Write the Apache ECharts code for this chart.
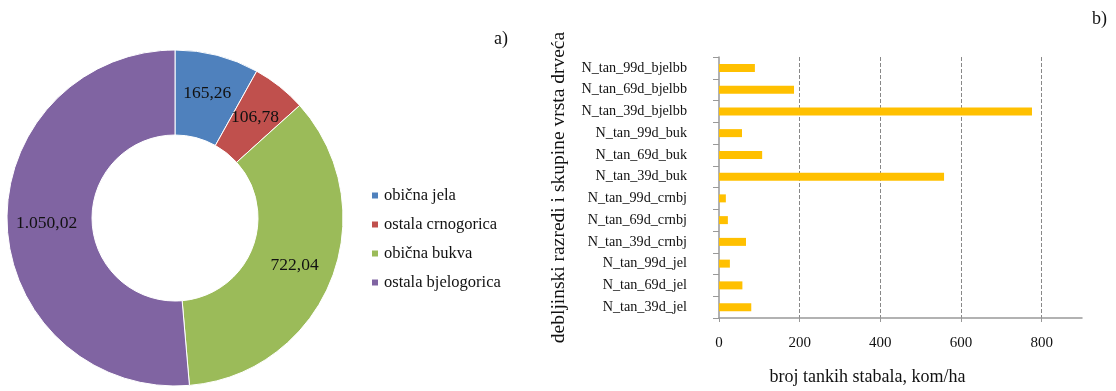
<!DOCTYPE html>
<html>
<head>
<meta charset="utf-8">
<script src="https://cdn.jsdelivr.net/npm/echarts@6/dist/echarts.min.js"></script>
<style>
  html, body { margin: 0; padding: 0; background: #fff; }
  #chart { width: 1116px; height: 391px; }
</style>
</head>
<body>
<div id="chart"></div>
<script>
// donut: species groups
const species = ['obična jela', 'ostala crnogorica', 'obična bukva', 'ostala bjelogorica']
const speciesValues = [165.26, 106.78, 722.04, 1050.02]
const speciesColors = ['#4f81bd', '#c0504d', '#9bbb59', '#8064a2']

// bars: bottom to top
const classes = [
  'N_tan_39d_jel', 'N_tan_69d_jel', 'N_tan_99d_jel',
  'N_tan_39d_crnbj', 'N_tan_69d_crnbj', 'N_tan_99d_crnbj',
  'N_tan_39d_buk', 'N_tan_69d_buk', 'N_tan_99d_buk',
  'N_tan_39d_bjelbb', 'N_tan_69d_bjelbb', 'N_tan_99d_bjelbb'
]
const classValues = [80, 58, 27, 67, 22, 17, 558, 107, 57, 776, 186, 89]

const font = 'Liberation Serif'

// 1050.02 -> "1.050,02"
function hrNum(v) {
  const parts = v.toFixed(2).split('.')
  const int = parts[0].replace(/\B(?=(\d{3})+(?!\d))/g, '.')
  return int + ',' + parts[1]
}

const chart = echarts.init(document.getElementById('chart'))
const option = {
  animation: false,
  textStyle: { fontFamily: font },
  legend: {
    orient: 'vertical',
    left: 365,
    top: 182,
    icon: 'rect',
    itemWidth: 8,
    itemHeight: 8,
    itemGap: 12,
    data: species,
    textStyle: { fontFamily: font, fontSize: 16.5, color: '#111' }
  },
  grid: {
    left: 719,
    right: 34,
    top: 57,
    bottom: 69
  },
  xAxis: {
    type: 'value',
    min: 0,
    max: 900,
    interval: 200,
    name: 'broj tankih stabala, kom/ha',
    nameLocation: 'middle',
    nameGap: 50,
    nameTextStyle: { fontFamily: font, fontSize: 18, color: '#111', padding: [0, 66, 0, 0] },
    axisLine: { show: true, lineStyle: { color: '#999', width: 1.5 } },
    axisTick: { show: true, length: 4, lineStyle: { color: '#999' } },
    axisLabel: {
      margin: 18,
      fontSize: 15,
      color: '#111',
      showMaxLabel: false,
      formatter: v => (v > 800 ? '' : v)
    },
    splitLine: {
      show: true,
      showMinLine: false,
      showMaxLine: false,
      lineStyle: { type: 'dashed', color: '#888', width: 1 }
    }
  },
  yAxis: {
    type: 'category',
    data: classes,
    name: 'debljinski razredi i skupine vrsta drveća',
    nameLocation: 'middle',
    nameRotate: 90,
    nameGap: 150,
    nameTextStyle: { fontFamily: font, fontSize: 19.5, color: '#111' },
    axisLine: { show: true, lineStyle: { color: '#999', width: 1.5 } },
    axisTick: { show: true, length: 6, lineStyle: { color: '#999' } },
    axisLabel: { margin: 32, fontSize: 14.2, color: '#111' }
  },
  series: [
    {
      name: 'donut',
      type: 'pie',
      center: [175, 218],
      radius: [83, 168],
      startAngle: 90,
      clockwise: true,
      avoidLabelOverlap: false,
      data: species.map((n, i) => ({
        name: n,
        value: speciesValues[i],
        itemStyle: { color: speciesColors[i] }
      })),
      itemStyle: { borderColor: '#fff', borderWidth: 1 },
      label: {
        show: true,
        position: 'inside',
        fontFamily: font,
        fontSize: 17.5,
        color: '#111',
        textBorderWidth: 0,
        formatter: p => hrNum(p.value)
      },
      labelLine: { show: false }
    },
    {
      name: 'bars',
      type: 'bar',
      data: classValues,
      barWidth: 8,
      itemStyle: { color: '#ffc000' }
    }
  ],
  graphic: [
    {
      type: 'text',
      left: 494,
      top: 30,
      style: { text: 'a)', font: '18px "Liberation Serif"', fill: '#111' }
    },
    {
      type: 'text',
      left: 1092,
      top: 10,
      style: { text: 'b)', font: '18px "Liberation Serif"', fill: '#111' }
    }
  ]
}
chart.setOption(option, true)
</script>
</body>
</html>
